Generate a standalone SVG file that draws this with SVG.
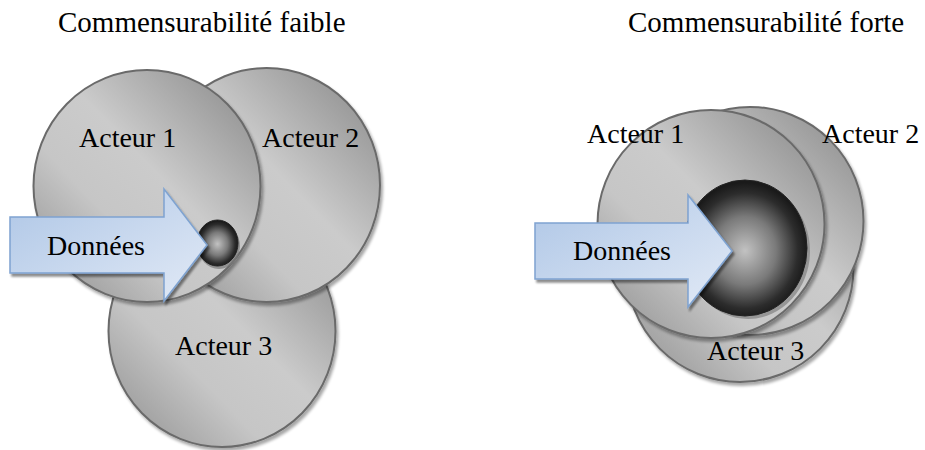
<svg xmlns="http://www.w3.org/2000/svg" width="925" height="450" viewBox="0 0 925 450">
<style>
text{font-family:'Liberation Serif','Times New Roman',Times,serif;fill:#000}
.t{font-size:29px}
.l{font-size:28px}
.c{fill:url(#cg);stroke:#6a6a6a;stroke-width:2;filter:url(#sh)}
.s{stroke:#222;stroke-width:1}
.a{fill:url(#ag);stroke:#7fa3d1;stroke-width:1.5;filter:url(#ash)}
</style>
<defs>
<linearGradient id="cg" x1="1" y1="0" x2="0" y2="1">
<stop offset="0" stop-color="#858585"/>
<stop offset="0.45" stop-color="#cbcbcb"/>
<stop offset="0.65" stop-color="#c6c6c6"/>
<stop offset="1" stop-color="#8c8c8c"/>
</linearGradient>
<radialGradient id="sg" cx="0.5" cy="0.52" r="0.5">
<stop offset="0" stop-color="#c2c2c2"/>
<stop offset="0.5" stop-color="#7a7a7a"/>
<stop offset="0.85" stop-color="#2c2c2c"/>
<stop offset="1" stop-color="#1a1a1a"/>
</radialGradient>
<linearGradient id="ag" x1="0" y1="0" x2="1" y2="1">
<stop offset="0" stop-color="#aec6e6"/>
<stop offset="1" stop-color="#e2eaf6"/>
</linearGradient>
<filter id="sh" x="-10%" y="-10%" width="125%" height="125%">
<feGaussianBlur in="SourceAlpha" stdDeviation="1.5"/>
<feOffset dx="2" dy="3"/>
<feComponentTransfer><feFuncA type="linear" slope="0.35"/></feComponentTransfer>
<feMerge><feMergeNode/><feMergeNode in="SourceGraphic"/></feMerge>
</filter>
<filter id="ash" x="-10%" y="-10%" width="125%" height="130%">
<feGaussianBlur in="SourceAlpha" stdDeviation="1"/>
<feOffset dx="2" dy="3"/>
<feComponentTransfer><feFuncA type="linear" slope="0.45"/></feComponentTransfer>
<feMerge><feMergeNode/><feMergeNode in="SourceGraphic"/></feMerge>
</filter>
</defs>

<g id="title-faible"><text class="t" x="58" y="32">Commensurabilité faible</text></g>
<g id="title-forte"><text class="t" x="628" y="32">Commensurabilité forte</text></g>

<g id="w-acteur3"><ellipse class="c" cx="222" cy="331" rx="113.5" ry="116"/><text class="l" x="175" y="355">Acteur 3</text></g>
<g id="w-acteur2"><ellipse class="c" cx="266.5" cy="185" rx="113.5" ry="117"/><text class="l" x="262" y="147">Acteur 2</text></g>
<g id="w-acteur1"><ellipse class="c" cx="147" cy="186" rx="113.5" ry="116"/><text class="l" x="79" y="147">Acteur 1</text></g>
<g id="w-sphere"><ellipse cx="219" cy="246" rx="21" ry="23" fill="#7a7a7a" opacity="0.7"/><ellipse class="s" cx="217.5" cy="243" rx="20.5" ry="23" fill="url(#sg)"/></g>
<g id="w-donnees"><path class="a" d="M10,217 H164 V189 L207,245 L164,301 V273 H10 Z"/><text class="l" x="47" y="255">Données</text></g>

<g id="f-acteur3"><ellipse class="c" cx="740" cy="268" rx="113.5" ry="114"/><text class="l" x="707" y="360">Acteur 3</text></g>
<g id="f-acteur2"><ellipse class="c" cx="750" cy="221" rx="113.5" ry="114"/><text class="l" x="822" y="143">Acteur 2</text></g>
<g id="f-acteur1"><ellipse class="c" cx="711" cy="224" rx="113.5" ry="114"/><text class="l" x="587" y="143">Acteur 1</text></g>
<g id="f-sphere"><ellipse cx="748" cy="251" rx="62" ry="68" fill="#8a8a8a" opacity="0.8"/><ellipse class="s" cx="745" cy="248" rx="62" ry="68" fill="url(#sg)"/></g>
<g id="f-donnees"><path class="a" d="M535,223 H688 V195 L732,251 L688,307 V279 H535 Z"/><text class="l" x="573" y="260">Données</text></g>
</svg>
